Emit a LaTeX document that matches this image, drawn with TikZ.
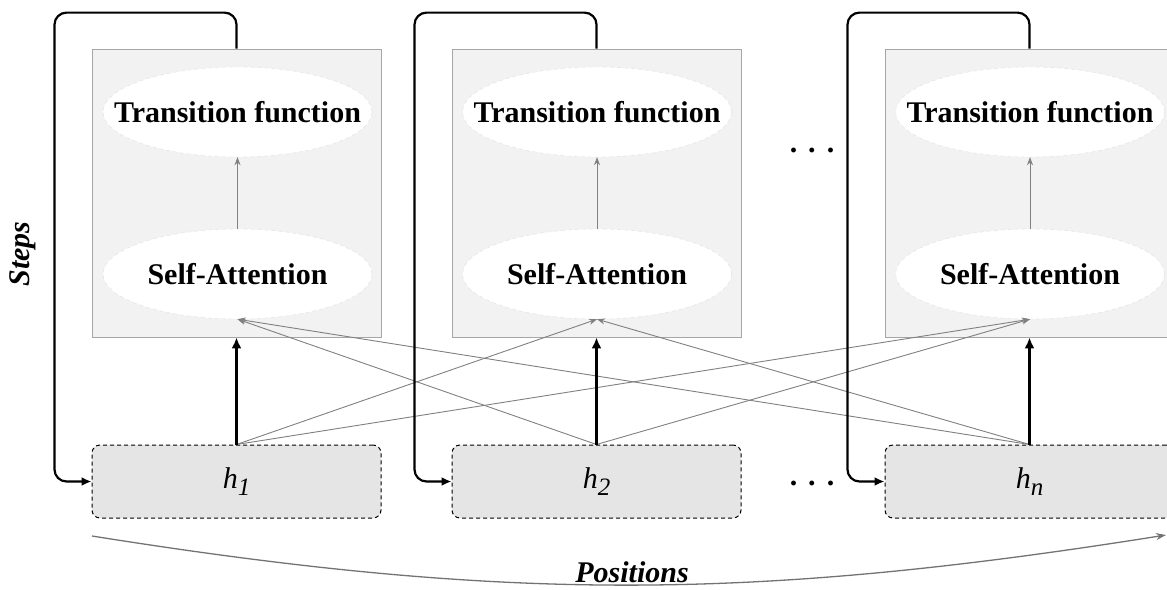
\documentclass[tikz,border=0pt]{standalone}
\usepackage{fontspec}
\setmainfont{Liberation Serif}
\usetikzlibrary{arrows.meta,shapes.geometric}
\begin{document}
\begin{tikzpicture}[x=1pt,y=-1pt,
  every node/.style={inner sep=0pt,font=\fontsize{30}{36}\selectfont},
  blockbox/.style={draw=black!35,fill=black!5,line width=0.8pt,minimum width=289pt,minimum height=288pt},
  opnode/.style={ellipse,draw=black!12,dash pattern=on 4pt off 3pt,fill=white,minimum width=269pt,minimum height=90pt},
  oplabel/.style={font=\fontsize{30}{36}\selectfont\bfseries},
  hbox/.style={draw=black,dash pattern=on 4pt off 3pt,line width=1pt,rounded corners=8pt,fill=black!10,minimum width=289pt,minimum height=73pt},
  recur/.style={line width=2.2pt,rounded corners=12pt,-{Latex[length=10pt,width=9pt]}},
  upflow/.style={line width=2.8pt,-{Latex[length=11pt,width=10pt]}},
  attn/.style={draw=black!50,line width=0.9pt,-{Stealth[length=8pt,width=6pt]}},
  axislbl/.style={font=\fontsize{30}{36}\selectfont\bfseries\itshape}
]
\useasboundingbox (0,0) rectangle (1167,589);
% blocks
\node[blockbox] (blk1) at (236.5,193) {};
\node[blockbox] (blk2) at (596.5,193) {};
\node[blockbox] (blk3) at (1029.5,193) {};
\node[opnode,label={[oplabel]center:Transition function}] (tf1) at (237.5,112) {};
\node[opnode,label={[oplabel]center:Transition function}] (tf2) at (597,112) {};
\node[opnode,label={[oplabel]center:Transition function}] (tf3) at (1030,112) {};
\node[opnode,label={[oplabel]center:Self-Attention}] (sa1) at (237.5,274) {};
\node[opnode,label={[oplabel]center:Self-Attention}] (sa2) at (597,274) {};
\node[opnode,label={[oplabel]center:Self-Attention}] (sa3) at (1030,274) {};
\draw[attn] (sa1.north) -- (tf1.south);
\draw[attn] (sa2.north) -- (tf2.south);
\draw[attn] (sa3.north) -- (tf3.south);
% hidden states
\node[hbox] (h1) at (236.5,481.5) {\textit{h\raisebox{-7pt}{\fontsize{25}{25}\selectfont 1}}};
\node[hbox] (h2) at (596.5,481.5) {\textit{h\raisebox{-7pt}{\fontsize{25}{25}\selectfont 2}}};
\node[hbox] (hn) at (1029.5,481.5) {\textit{h\raisebox{-7pt}{\fontsize{25}{25}\selectfont n}}};
\node (gapA) at (812,150) {\bfseries .\hspace{11pt}.\hspace{11pt}.};
\node (gapB) at (812,483) {\bfseries .\hspace{11pt}.\hspace{11pt}.};
% attention
\draw[attn] (h1.north) -- (sa2.south);
\draw[attn] (h1.north) -- (sa3.south);
\draw[attn] (h2.north) -- (sa1.south);
\draw[attn] (h2.north) -- (sa3.south);
\draw[attn] (hn.north) -- (sa1.south);
\draw[attn] (hn.north) -- (sa2.south);
\draw[upflow] (h1.north) -- (blk1.south);
\draw[upflow] (h2.north) -- (blk2.south);
\draw[upflow] (hn.north) -- (blk3.south);
% recurrence
\draw[recur] (blk1.north) -- ++(0,-36) -| ([xshift=-37pt]h1.west) -- (h1.west);
\draw[recur] (blk2.north) -- ++(0,-36) -| ([xshift=-37pt]h2.west) -- (h2.west);
\draw[recur] (blk3.north) -- ++(0,-36) -| ([xshift=-37pt]hn.west) -- (hn.west);
% axes
\node[axislbl,rotate=90] (stepslbl) at (22.5,254) {Steps};
\coordinate (posstart) at (92,536);
\coordinate (posend) at (1166,535);
\draw[draw=black!55,line width=1.3pt,-{Stealth[length=10pt,width=7pt]}] (posstart) .. controls +(415,66) and +(-415,66) .. (posend);
\node[axislbl] (poslbl) at (632,572) {Positions};
\end{tikzpicture}
\end{document}
